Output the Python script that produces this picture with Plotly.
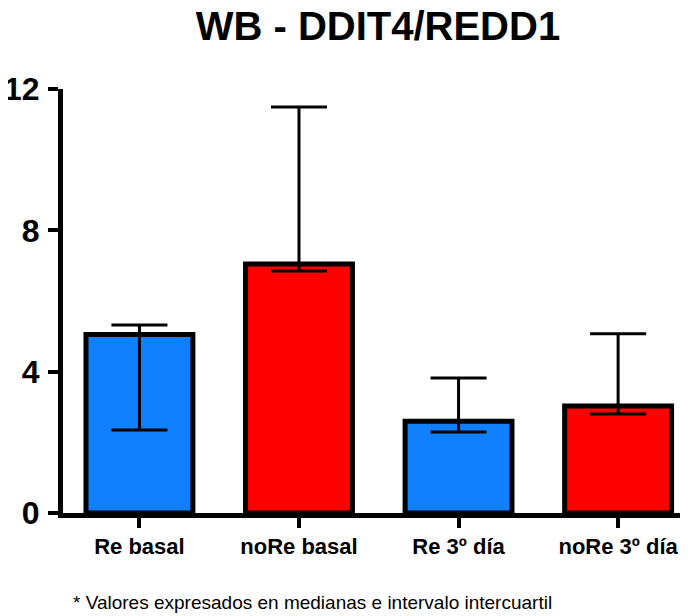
import plotly.graph_objects as go

groups = ["Re basal", "noRe basal", "Re 3º día", "noRe 3º día"]
medians = [5.05, 7.05, 2.60, 3.03]
q3 = [5.32, 11.49, 3.82, 5.07]
q1 = [2.35, 6.85, 2.29, 2.80]
colors = ["#1180FF", "#FF0000", "#1180FF", "#FF0000"]

FONT = "Liberation Sans, Arial, sans-serif"


def main():
    fig = go.Figure()
    fig.add_trace(go.Bar(
        x=list(range(len(groups))),
        y=medians,
        width=0.67,
        marker=dict(color=colors, line=dict(color="black", width=5)),
        error_y=dict(
            type="data",
            symmetric=False,
            array=[u - m for u, m in zip(q3, medians)],
            arrayminus=[m - l for m, l in zip(medians, q1)],
            color="black",
            thickness=3,
            width=28,
        ),
        showlegend=False,
    ))

    # page body adds an 8px margin, so the figure is drawn 8px smaller
    fig.update_layout(
        width=680, height=608,
        margin=dict(l=54.5, r=0, t=81, b=103),
        plot_bgcolor="white",
        paper_bgcolor="white",
        font=dict(family=FONT, color="black"),
        title=dict(
            text="WB - DDIT4/REDD1",
            x=0.544, xanchor="center",
            y=0.971, yanchor="middle",
            font=dict(size=40, family=FONT, weight="bold", color="black"),
        ),
    )
    fig.update_xaxes(
        range=[-0.479, 3.438],
        tickvals=list(range(len(groups))),
        ticktext=groups,
        showline=True, linecolor="black", linewidth=5,
        ticks="outside", ticklen=10, tickwidth=4, tickcolor="black",
        tickfont=dict(size=22, family=FONT, weight="bold"),
        showgrid=False, zeroline=False, automargin=False,
    )
    fig.update_yaxes(
        range=[0, 12],
        tickvals=[0, 4, 8, 12],
        showline=True, linecolor="black", linewidth=5,
        ticks="outside", ticklen=10, tickwidth=4, tickcolor="black",
        ticklabelstandoff=2,
        tickfont=dict(size=32, family=FONT, weight="bold"),
        showgrid=False, zeroline=False, automargin=False,
    )

    fig.add_annotation(
        text="* Valores expresados en medianas e intervalo intercuartil",
        xref="paper", yref="paper",
        x=0.399, y=-0.212, xanchor="center", yanchor="middle",
        showarrow=False,
        font=dict(size=19, family=FONT, color="black"),
    )

    fig.write_html("out.html")


if __name__ == "__main__":
    main()
